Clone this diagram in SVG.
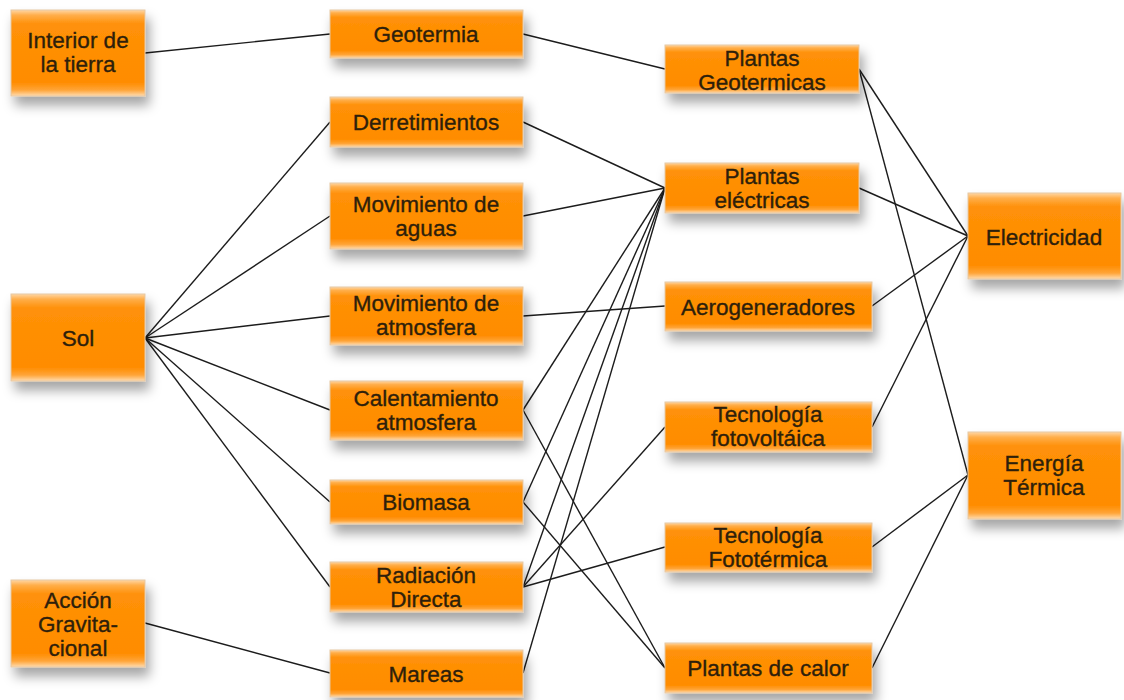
<svg xmlns="http://www.w3.org/2000/svg" width="1124" height="700" viewBox="0 0 1124 700">
  <defs>
    <linearGradient id="boxFill" x1="0" y1="0" x2="0" y2="1">
      <stop offset="0" stop-color="#ffd7a6"/>
      <stop offset="0.06" stop-color="#ffae4a"/>
      <stop offset="0.16" stop-color="#ff9108"/>
      <stop offset="0.84" stop-color="#ff8c00"/>
      <stop offset="0.93" stop-color="#ffa437"/>
      <stop offset="1" stop-color="#ffdcb0"/>
    </linearGradient>
    <filter id="boxShadow" x="-20%" y="-20%" width="150%" height="170%">
      <feDropShadow dx="4" dy="9" stdDeviation="6" flood-color="#000" flood-opacity="0.35"/>
    </filter>
  </defs>
  <style>
    .box { fill: url(#boxFill); stroke: #e6c7a2; stroke-width: 1; filter: url(#boxShadow); }
    .lbl { font-family: "Liberation Sans", Arial, sans-serif; font-size: 22.5px; fill: #2e1f0b; stroke: #2e1f0b; stroke-width: 0.35; text-anchor: middle; }
    .edge { stroke: #1c1c1c; stroke-width: 1.4; fill: none; }
  </style>
  <rect width="1124" height="700" fill="#ffffff"/>

  <!-- connectors -->
  <g id="connectors" class="edge">
    <line x1="145" y1="53" x2="330" y2="34"/>
    <line x1="523" y1="34" x2="665" y2="69"/>
    <line x1="145" y1="338" x2="330" y2="122"/>
    <line x1="145" y1="338" x2="330" y2="216"/>
    <line x1="145" y1="338" x2="330" y2="316"/>
    <line x1="145" y1="338" x2="330" y2="410"/>
    <line x1="145" y1="338" x2="330" y2="502"/>
    <line x1="145" y1="338" x2="330" y2="587"/>
    <line x1="145" y1="623" x2="330" y2="673"/>
    <line x1="523" y1="122" x2="665" y2="188"/>
    <line x1="523" y1="216" x2="665" y2="188"/>
    <line x1="523" y1="316" x2="665" y2="306"/>
    <line x1="523" y1="410" x2="665" y2="188"/>
    <line x1="523" y1="410" x2="665" y2="668"/>
    <line x1="523" y1="502" x2="665" y2="188"/>
    <line x1="523" y1="502" x2="665" y2="668"/>
    <line x1="523" y1="587" x2="665" y2="188"/>
    <line x1="523" y1="587" x2="665" y2="427"/>
    <line x1="523" y1="587" x2="665" y2="547"/>
    <line x1="523" y1="673" x2="665" y2="188"/>
    <line x1="859" y1="69" x2="968" y2="236"/>
    <line x1="859" y1="69" x2="968" y2="475"/>
    <line x1="859" y1="188" x2="968" y2="236"/>
    <line x1="872" y1="306" x2="968" y2="236"/>
    <line x1="872" y1="427" x2="968" y2="236"/>
    <line x1="872" y1="547" x2="968" y2="475"/>
    <line x1="872" y1="668" x2="968" y2="475"/>
  </g>

  <!-- sources -->
  <g id="interior">
    <rect class="box" x="11" y="10" width="134" height="86"/>
    <text class="lbl" x="78" y="48">Interior de</text>
    <text class="lbl" x="78" y="72">la tierra</text>
  </g>
  <g id="sol">
    <rect class="box" x="11" y="294" width="134" height="87"/>
    <text class="lbl" x="78" y="346">Sol</text>
  </g>
  <g id="accion">
    <rect class="box" x="11" y="580" width="134" height="87"/>
    <text class="lbl" x="78" y="608">Acción</text>
    <text class="lbl" x="78" y="632">Gravita-</text>
    <text class="lbl" x="78" y="656">cional</text>
  </g>

  <!-- phenomena -->
  <g id="geotermia">
    <rect class="box" x="330" y="10" width="193" height="48"/>
    <text class="lbl" x="426" y="42">Geotermia</text>
  </g>
  <g id="derretimientos">
    <rect class="box" x="330" y="97" width="193" height="50"/>
    <text class="lbl" x="426" y="130">Derretimientos</text>
  </g>
  <g id="mov-aguas">
    <rect class="box" x="330" y="183" width="193" height="66"/>
    <text class="lbl" x="426" y="212">Movimiento de</text>
    <text class="lbl" x="426" y="236">aguas</text>
  </g>
  <g id="mov-atmosfera">
    <rect class="box" x="330" y="287" width="193" height="58"/>
    <text class="lbl" x="426" y="311">Movimiento de</text>
    <text class="lbl" x="426" y="335">atmosfera</text>
  </g>
  <g id="calentamiento">
    <rect class="box" x="330" y="381" width="193" height="59"/>
    <text class="lbl" x="426" y="406">Calentamiento</text>
    <text class="lbl" x="426" y="430">atmosfera</text>
  </g>
  <g id="biomasa">
    <rect class="box" x="330" y="480" width="193" height="44"/>
    <text class="lbl" x="426" y="510">Biomasa</text>
  </g>
  <g id="radiacion">
    <rect class="box" x="330" y="562" width="193" height="50"/>
    <text class="lbl" x="426" y="583">Radiación</text>
    <text class="lbl" x="426" y="607">Directa</text>
  </g>
  <g id="mareas">
    <rect class="box" x="330" y="650" width="193" height="47"/>
    <text class="lbl" x="426" y="682">Mareas</text>
  </g>

  <!-- technologies -->
  <g id="plantas-geotermicas">
    <rect class="box" x="665" y="45" width="194" height="48"/>
    <text class="lbl" x="762" y="66">Plantas</text>
    <text class="lbl" x="762" y="90">Geotermicas</text>
  </g>
  <g id="plantas-electricas">
    <rect class="box" x="665" y="163" width="194" height="50"/>
    <text class="lbl" x="762" y="184">Plantas</text>
    <text class="lbl" x="762" y="208">eléctricas</text>
  </g>
  <g id="aerogeneradores">
    <rect class="box" x="665" y="282" width="207" height="49"/>
    <text class="lbl" x="768" y="315">Aerogeneradores</text>
  </g>
  <g id="fotovoltaica">
    <rect class="box" x="665" y="402" width="207" height="50"/>
    <text class="lbl" x="768" y="422">Tecnología</text>
    <text class="lbl" x="768" y="446">fotovoltáica</text>
  </g>
  <g id="fototermica">
    <rect class="box" x="665" y="523" width="207" height="49"/>
    <text class="lbl" x="768" y="543">Tecnología</text>
    <text class="lbl" x="768" y="567">Fototérmica</text>
  </g>
  <g id="plantas-calor">
    <rect class="box" x="665" y="643" width="207" height="50"/>
    <text class="lbl" x="768" y="676">Plantas de calor</text>
  </g>

  <!-- outputs -->
  <g id="electricidad">
    <rect class="box" x="968" y="193" width="153" height="86"/>
    <text class="lbl" x="1044" y="245">Electricidad</text>
  </g>
  <g id="energia-termica">
    <rect class="box" x="968" y="432" width="153" height="87"/>
    <text class="lbl" x="1044" y="471">Energía</text>
    <text class="lbl" x="1044" y="495">Térmica</text>
  </g>
</svg>
